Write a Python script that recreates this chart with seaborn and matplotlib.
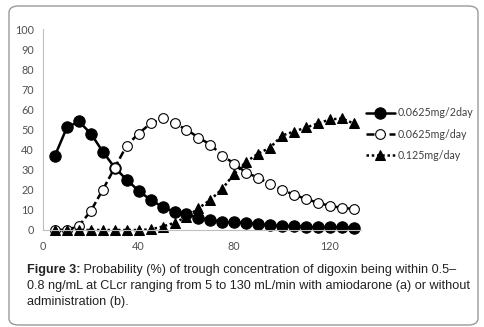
import numpy as np
import pandas as pd
import matplotlib
matplotlib.use('Agg')
import matplotlib.pyplot as plt
import seaborn as sns
from matplotlib.patches import FancyBboxPatch

clcr = [5, 10, 15, 20, 25, 30, 35, 40, 45, 50, 55, 60, 65, 70, 75,
        80, 85, 90, 95, 100, 105, 110, 115, 120, 125, 130]
dose_2day = [37, 51, 54, 48, 39, 31, 25, 19.5, 15, 11.5, 9, 8, 6, 5, 4,
             3.8, 3.5, 3, 2.5, 2, 2, 1.5, 1.5, 1.5, 1.5, 1]
dose_day = [0, 0, 2, 9.5, 20, 31, 42, 48, 53, 55.5, 53, 50, 46, 42.5, 37,
            33, 28.5, 26, 23, 20, 17.5, 15.5, 13.5, 12, 11, 10.5]
dose_high = [0, 0, 0, 0, 0, 0, 0, 0, 0.3, 1.7, 3.6, 6.5, 10.8, 15, 20.5,
             28, 34, 38, 41, 47, 49, 51, 53, 55, 55.5, 53]
labels = ['0.0625mg/2day', '0.0625mg/day', '0.125mg/day']

df = pd.DataFrame({'clcr': clcr, labels[0]: dose_2day,
                   labels[1]: dose_day, labels[2]: dose_high})

sns.set_style('white')
plt.rcParams['font.family'] = ['Lato', 'DejaVu Sans']

fig = plt.figure(figsize=(4.85, 3.27), dpi=100)
ax = fig.add_axes([43 / 485, 97 / 327, 318 / 485, 201 / 327])

sns.lineplot(data=df, x='clcr', y=labels[0], ax=ax, color='black',
             marker='o', markersize=8.2, markerfacecolor='black',
             markeredgecolor='black', linewidth=1.8, label=labels[0],
             clip_on=False)
sns.lineplot(data=df, x='clcr', y=labels[1], ax=ax, color='black',
             marker='o', markersize=7, markerfacecolor='white',
             markeredgecolor='black', markeredgewidth=0.8,
             linestyle=(0, (3.2, 1.4)), linewidth=1.8, label=labels[1],
             clip_on=False)
sns.lineplot(data=df, x='clcr', y=labels[2], ax=ax, color='black',
             marker='^', markersize=6.5, markerfacecolor='black',
             markeredgecolor='black', linestyle=(0, (1, 1.1)),
             linewidth=1.8, label=labels[2], clip_on=False)

ax.set_xlim(0, 133)
ax.set_ylim(0, 100)
ax.set_xticks([0, 40, 80, 120])
ax.set_yticks(range(0, 101, 10))
ax.set_xlabel('')
ax.set_ylabel('')
sns.despine(ax=ax)
for side in ['left', 'bottom']:
    ax.spines[side].set_color('#bfbfbf')
    ax.spines[side].set_linewidth(0.8)
ax.tick_params(axis='both', labelsize=7.8, colors='#bfbfbf', labelcolor='#505050',
               length=3, width=0.8, direction='out')
ax.tick_params(axis='x', pad=5)

ax.legend(loc='center left', bbox_to_anchor=(366 / 485, 193 / 327),
          bbox_transform=fig.transFigure, frameon=False, fontsize=7.7,
          handlelength=2.7, handletextpad=0.3, labelspacing=0.95,
          borderaxespad=0, borderpad=0, labelcolor='#404040')

cap_font = ['Liberation Sans', 'DejaVu Sans']
cap_size = 9.1
bold = fig.text(27 / 485, 1 - 273 / 327, 'Figure 3:', fontsize=cap_size,
                fontweight='bold', family=cap_font, color='#222222',
                va='baseline')
ax.annotate(' Probability (%) of trough concentration of digoxin being within 0.5\u2013',
            xy=(1, 0), xycoords=bold, fontsize=cap_size, family=cap_font,
            color='#222222', va='bottom', ha='left', annotation_clip=False)
fig.text(27 / 485, 1 - 289 / 327,
         '0.8 ng/mL at CLcr ranging from 5 to 130 mL/min with amiodarone (a) or without',
         fontsize=cap_size, family=cap_font, color='#222222', va='baseline')
fig.text(27 / 485, 1 - 305 / 327, 'administration (b).',
         fontsize=cap_size, family=cap_font, color='#222222', va='baseline')

box = FancyBboxPatch((9 / 485, 1 - 325 / 327), 469 / 485, 319 / 327,
                     boxstyle='round,pad=0,rounding_size=0.02',
                     transform=fig.transFigure, facecolor='none',
                     edgecolor='#9a9a9a', linewidth=1.0)
fig.patches.append(box)

fig.savefig('out.png', dpi=100)
